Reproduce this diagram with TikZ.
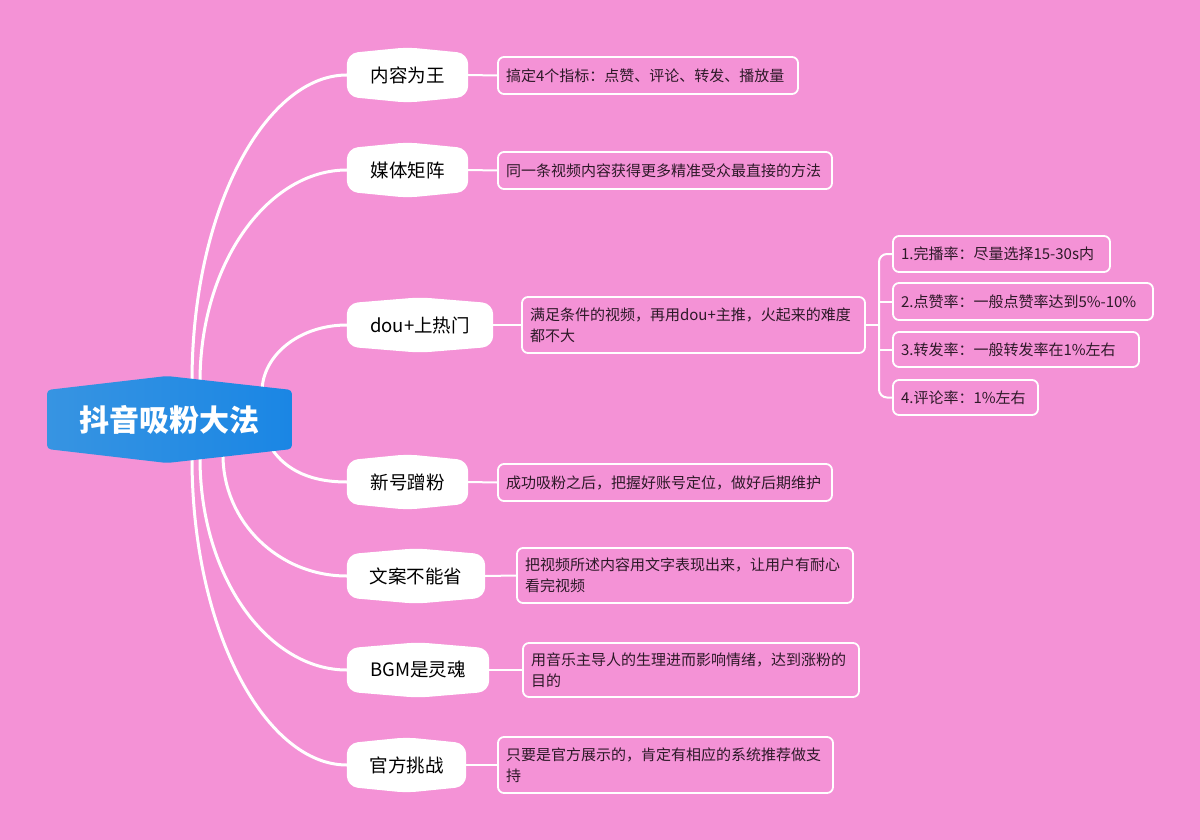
\documentclass[tikz,border=0pt]{standalone}
\usepackage{fontspec}
\setmainfont{Noto Sans CJK SC}
\usetikzlibrary{calc}
\definecolor{bgpink}{RGB}{244,146,214}
\definecolor{leaftext}{RGB}{45,25,40}
\definecolor{blueL}{RGB}{55,148,226}
\definecolor{blueR}{RGB}{26,134,228}
\pgfdeclarelayer{background}
\pgfsetlayers{background,main}
\newcommand\branchshape[1]{%
  \fill[white, rounded corners=11pt]
    ($(#1.north west)+(0,6)$) -- (#1.north) -- ($(#1.north east)+(0,6)$) --
    ($(#1.south east)+(0,-6)$) -- (#1.south) -- ($(#1.south west)+(0,-6)$) -- cycle;}
\tikzset{
  branch/.style={inner sep=0pt, minimum height=55pt, text=black,
    font=\fontsize{18.5}{22}\selectfont},
  leaf/.style={draw=white, line width=1.8pt, rounded corners=6pt, fill=bgpink,
    text=leaftext, align=left, inner xsep=8pt, inner ysep=0pt,
    font=\fontsize{15}{21}\selectfont},
  curve/.style={draw=white, line width=3pt},
  link/.style={draw=white, line width=2pt},
}
\begin{document}
\begin{tikzpicture}[x=1pt,y=-1pt]
\useasboundingbox (0,0) rectangle (1200,840);

% central node
\node[inner sep=0pt, minimum width=245pt, minimum height=87pt, text=white,
  font=\fontsize{30}{34}\selectfont\bfseries] (c) at (169.5,419.5) {抖音吸粉大法};

% branch nodes
\node[branch, minimum width=121pt] (b1) at (407.5,75) {内容为王};
\node[branch, minimum width=121pt] (b2) at (407.5,170) {媒体矩阵};
\node[branch, minimum width=146pt] (b3) at (420,325) {dou+上热门};
\node[branch, minimum width=121pt] (b4) at (407.5,482) {新号蹭粉};
\node[branch, minimum width=138pt] (b5) at (416,576) {文案不能省};
\node[branch, minimum width=142pt] (b6) at (418,670) {BGM是灵魂};
\node[branch, minimum width=119pt] (b7) at (406.5,765) {官方挑战};

% leaf nodes
\node[leaf, text width=284pt, minimum height=37pt] (l1) at (648,75.5) {搞定4个指标：点赞、评论、转发、播放量};
\node[leaf, text width=318pt, minimum height=37pt] (l2) at (665,170.5) {同一条视频内容获得更多精准受众最直接的方法};
\node[leaf, text width=327pt, minimum height=56pt] (l3) at (693.5,325) {满足条件的视频，再用dou+主推，火起来的难度\\都不大};
\node[leaf, text width=318pt, minimum height=37pt] (l4) at (665,482.5) {成功吸粉之后，把握好账号定位，做好后期维护};
\node[leaf, text width=320pt, minimum height=55pt] (l5) at (685,575.5) {把视频所述内容用文字表现出来，让用户有耐心\\看完视频};
\node[leaf, text width=320pt, minimum height=54pt] (l6) at (691,670) {用音乐主导人的生理进而影响情绪，达到涨粉的\\目的};
\node[leaf, text width=319pt, minimum height=56pt] (l7) at (665.5,765) {只要是官方展示的，肯定有相应的系统推荐做支\\持};

% sub leaves
\node[leaf, text width=201pt, minimum height=36pt] (s1) at (1001.5,254) {1.完播率：尽量选择15-30s内};
\node[leaf, text width=244pt, minimum height=37pt] (s2) at (1023,301.5) {2.点赞率：一般点赞率达到5\%-10\%};
\node[leaf, text width=230pt, minimum height=35pt] (s3) at (1016,349.5) {3.转发率：一般转发率在1\%左右};
\node[leaf, text width=129pt, minimum height=35pt] (s4) at (965.5,397.5) {4.评论率：1\%左右};

% curve start points (under the central node)
\coordinate (c1) at (192,382);
\coordinate (c2) at (200,382);
\coordinate (c3) at (262,392);
\coordinate (c4) at (270,446);
\coordinate (c5) at (223,455);
\coordinate (c6) at (200,458);
\coordinate (c7) at (192,458);
\coordinate (jn) at (879,325);

\begin{pgfonlayer}{background}
  \fill[bgpink] (0,0) rectangle (1200,840);

  \draw[curve] (c1) .. controls +(0,-175) and +(-80,0) .. (b1.west);
  \draw[curve] (c2) .. controls +(0,-120) and +(-78,0) .. (b2.west);
  \draw[curve] (c3) .. controls +(0,-37) and +(-47,0) .. (b3.west);
  \draw[curve] (c4) .. controls +(12,20) and +(-42,0) .. (b4.west);
  \draw[curve] (c5) .. controls +(0,67) and +(-68,0) .. (b5.west);
  \draw[curve] (c6) .. controls +(0,120) and +(-78,0) .. (b6.west);
  \draw[curve] (c7) .. controls +(0,175) and +(-80,0) .. (b7.west);

  \draw[link] (b1.east) -- (l1.west);
  \draw[link] (b2.east) -- (l2.west);
  \draw[link] (b3.east) -- (l3.west);
  \draw[link] (b4.east) -- (l4.west);
  \draw[link] (b5.east) -- (l5.west);
  \draw[link] (b6.east) -- (l6.west);
  \draw[link] (b7.east) -- (l7.west);

  \draw[link] (l3.east) -- (jn);
  \draw[link, rounded corners=8pt] (s1.west) -| (jn) |- (s4.west);
  \draw[link] (s2.west) -- (s2.west -| jn);
  \draw[link] (s3.west) -- (s3.west -| jn);

  \branchshape{b1}\branchshape{b2}\branchshape{b3}\branchshape{b4}
  \branchshape{b5}\branchshape{b6}\branchshape{b7}

  \shade[left color=blueL, right color=blueR, rounded corners=4pt]
    (47,390) -- (167,376) -- (292,390) -- (292,449) -- (167,463) -- (47,449) -- cycle;
\end{pgfonlayer}
\end{tikzpicture}
\end{document}
